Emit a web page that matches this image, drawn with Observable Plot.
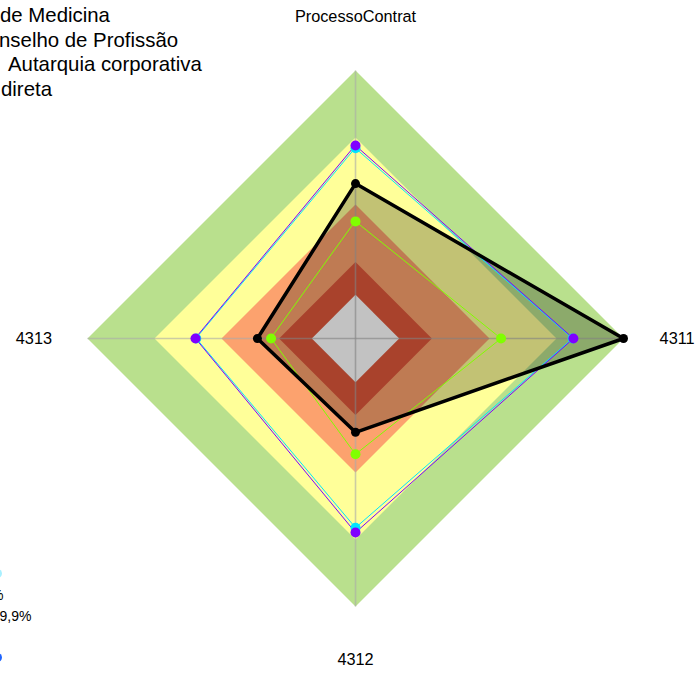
<!DOCTYPE html>
<html><head><meta charset="utf-8">
<script src="https://cdn.jsdelivr.net/npm/d3@7"></script>
<script src="https://cdn.jsdelivr.net/npm/@observablehq/plot@0.6"></script>
<style>
body{margin:0;background:#fff;}
#wrap{position:relative;width:696px;height:673px;overflow:hidden;font-family:"Liberation Sans",Arial,sans-serif;background:#fff;}
#chart{position:absolute;left:0;top:0}
.leg{position:absolute;white-space:nowrap;font-size:20.4px;line-height:24.6px;color:#000}
.small{position:absolute;white-space:nowrap;font-size:14px;line-height:16px;color:#000}
.pre{position:absolute;right:100%;top:0;white-space:nowrap}
.dot{position:absolute;border-radius:50%}
</style></head><body>
<div id="wrap"><div id="chart"></div>
<div class="leg" style="left:0px;top:3px"><span class="pre">Conselho&nbsp;</span>de Medicina</div>
<div class="leg" style="left:-1px;top:27.6px"><span class="pre">Co</span>nselho de Profissão</div>
<div class="leg" style="left:2.3px;top:52.2px"><span class="pre" style="right:calc(100% + 4px)">Outra</span>&nbsp;Autarquia corporativa</div>
<div class="leg" style="left:1px;top:76.8px"><span class="pre">Administração&nbsp;</span>direta</div>
<div class="small" style="left:3.5px;top:586.5px"><span class="pre">50%</span></div>
<div class="small" style="left:-0.5px;top:607.5px"><span class="pre">9</span>9,9%</div>
<div class="dot" style="left:-7px;top:568.5px;width:9px;height:9px;background:#a8f0ff"></div>
<div class="dot" style="left:-7px;top:652.5px;width:9px;height:9px;background:#1e64ff"></div>
</div>
<script>
// ---- data ----
const axisLabels = ["ProcessoContrat", "4311", "4312", "4313"];
const seriesNames = ["Conselho de Medicina", "Conselho de Profissão", "Outra Autarquia corporativa", "Administração direta"];
const serieBlack  = [0.578, 1.0, 0.35, 0.366];
const seriePurple = [0.72, 0.813, 0.724, 0.597];
const serieCyan   = [0.71, 0.81, 0.706, 0.594];
const serieGreen  = [0.437, 0.543, 0.432, 0.315];
const bandLevels  = [1.0, 0.75, 0.5, 0.285, 0.163];
const labelRadius = 1.2;

// ---- styles ----
const bandColors = ["#b9e08d", "#ffff99", "#fca26e", "#df573b", "#ffffff"];

const ang = i => i * Math.PI / 2;
const toPts = vals => vals.map((v, i) => ({axis: axisLabels[i], x: v * Math.sin(ang(i)), y: v * Math.cos(ang(i))}));

const bandMarks = bandLevels.map((lv, k) =>
  Plot.line(toPts(axisLabels.map(() => lv)), {x: "x", y: "y", curve: "linear-closed", fill: bandColors[k], stroke: "none"})
);

const outerPts = toPts(axisLabels.map(() => 1));
const labelPts = toPts(axisLabels.map(() => labelRadius));

const chart = Plot.plot({
  width: 696, height: 673,
  marginLeft: 87, marginRight: 73, marginTop: 70, marginBottom: 67,
  x: {domain: [-1, 1], axis: null},
  y: {domain: [-1, 1], axis: null},
  style: {background: "transparent", overflow: "visible", fontFamily: "Liberation Sans, Arial, sans-serif"},
  marks: [
    ...bandMarks,
    Plot.link(outerPts, {x1: () => 0, y1: () => 0, x2: "x", y2: "y", stroke: "#aaaaaa", strokeOpacity: 0.6, strokeWidth: 1.6}),
    Plot.line(toPts(serieBlack), {x: "x", y: "y", curve: "linear-closed", fill: "black", fillOpacity: 0.24, stroke: "none"}),
    Plot.line(toPts(serieCyan), {x: "x", y: "y", curve: "linear-closed", stroke: "#00e5ff", strokeWidth: 1}),
    Plot.line(toPts(seriePurple), {x: "x", y: "y", curve: "linear-closed", stroke: "#7f00ff", strokeWidth: 1}),
    Plot.line(toPts(serieGreen), {x: "x", y: "y", curve: "linear-closed", stroke: "#80ff00", strokeWidth: 1}),
    Plot.line(toPts(serieBlack), {x: "x", y: "y", curve: "linear-closed", stroke: "black", strokeWidth: 3.5, strokeLinejoin: "round"}),
    Plot.dot(toPts(serieCyan), {x: "x", y: "y", r: 5, fill: "#00e5ff", stroke: "none"}),
    Plot.dot(toPts(seriePurple), {x: "x", y: "y", r: 5, fill: "#7f00ff", stroke: "none"}),
    Plot.dot(toPts(serieGreen), {x: "x", y: "y", r: 5, fill: "#80ff00", stroke: "none"}),
    Plot.dot(toPts(serieBlack), {x: "x", y: "y", r: 4.5, fill: "black", stroke: "none"}),
    Plot.text(labelPts, {x: "x", y: "y", text: "axis", fontSize: 16.3, fill: "black"})
  ]
});
document.getElementById("chart").appendChild(chart);
</script>
</body></html>
